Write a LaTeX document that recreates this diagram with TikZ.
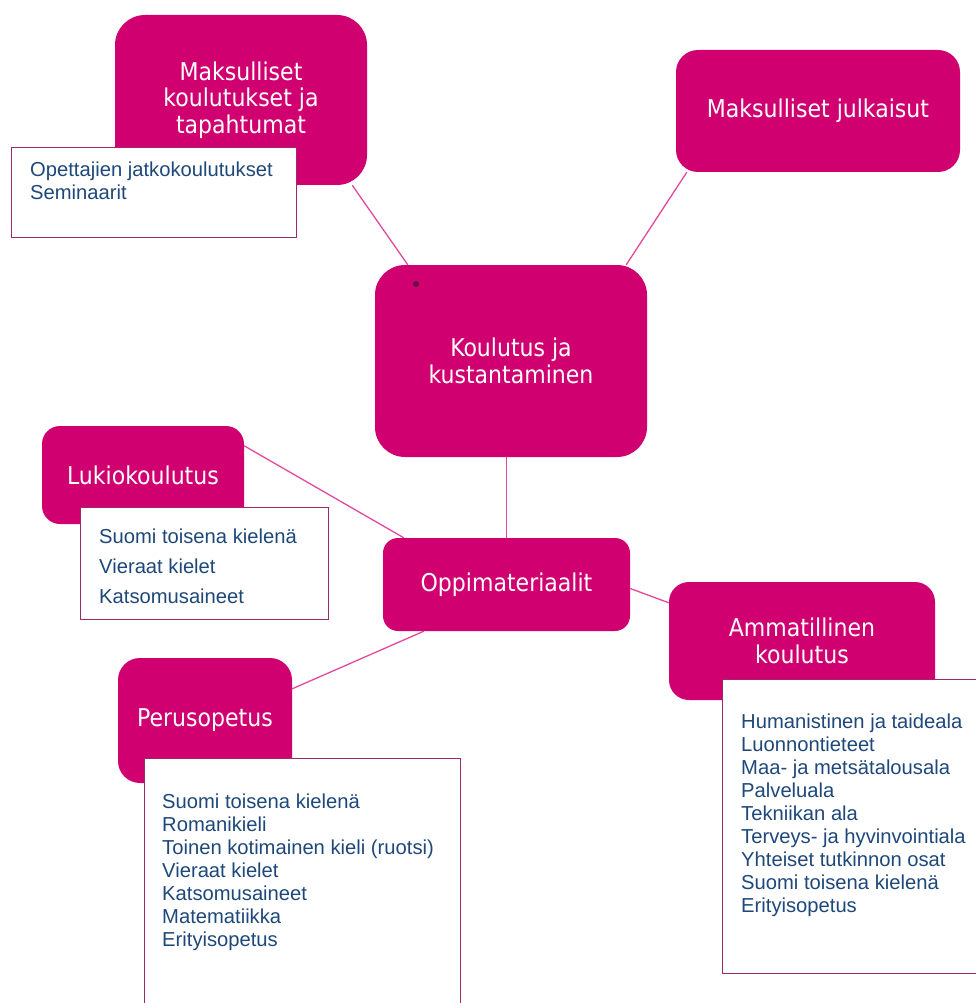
\documentclass[tikz,border=0pt]{standalone}
\usepackage{fontspec}
\setmainfont{Liberation Sans}
\newfontfamily\topicfont{DejaVu Sans Condensed}
\usetikzlibrary{positioning, backgrounds}
\definecolor{topicmag}{RGB}{208,0,112}
\definecolor{linkpink}{RGB}{228,72,156}
\definecolor{listframe}{RGB}{158,40,108}
\definecolor{listblue}{RGB}{30,72,122}
\definecolor{dotpurple}{RGB}{96,20,70}

\begin{document}
\begin{tikzpicture}[
    x=1pt, y=-1pt,
    topic/.style={rectangle, fill=topicmag, text=white, align=center, inner sep=0pt,
        font=\topicfont\fontsize{24.5}{26.5}\selectfont},
    listbox/.style={rectangle, draw=listframe, fill=white, line width=1.2pt, anchor=north west, inner sep=0pt},
    listtext/.style={anchor=base west, align=left, inner sep=0pt, text=listblue,
        font=\fontsize{20.2}{23}\selectfont},
    dot/.style={circle, fill=dotpurple, inner sep=0pt, minimum size=6pt},
    link/.style={draw=linkpink, line width=1.3pt}
]
\useasboundingbox (0,0) rectangle (976,1003);
\clip (0,0) rectangle (976,1003);

\node[topic, minimum width=252pt, minimum height=170pt, rounded corners=30pt] (mk) at (241,100) {Maksulliset\\koulutukset ja\\tapahtumat};
\node[listbox, minimum width=285pt, minimum height=90pt] (opetlist) at (11,147) {};
\node[listtext, font=\fontsize{20.2}{24}\selectfont] (opettext) at (30,200) {Opettajien jatkokoulutukset\\Seminaarit};

\node[topic, minimum width=284pt, minimum height=122pt, rounded corners=22pt] (julk) at (818,111) {Maksulliset julkaisut};

\node[topic, minimum width=272pt, minimum height=192pt, rounded corners=30pt] (kk) at (511,361) {Koulutus ja\\kustantaminen};
\node[dot] (kkdot) at (416,284) {};

\node[topic, minimum width=202pt, minimum height=98pt, rounded corners=18pt] (lukio) at (143,475) {Lukiokoulutus};
\node[listbox, minimum width=248pt, minimum height=112pt] (lukiolist) at (80,507) {};
\node[listtext, font=\fontsize{20.2}{30}\selectfont] (lukiotext) at (99,603) {Suomi toisena kielenä\\Vieraat kielet\\Katsomusaineet};

\node[topic, minimum width=247pt, minimum height=93pt, rounded corners=15pt] (oppi) at (506.5,584.5) {Oppimateriaalit};

\node[topic, minimum width=266pt, minimum height=118pt, rounded corners=20pt] (amm) at (802,641) {Ammatillinen\\koulutus};
\node[listbox, minimum width=262pt, minimum height=294pt] (ammlist) at (722,679) {};
\node[listtext] (ammtext) at (741,912) {Humanistinen ja taideala\\Luonnontieteet\\Maa- ja metsätalousala\\Palveluala\\Tekniikan ala\\Terveys- ja hyvinvointiala\\Yhteiset tutkinnon osat\\Suomi toisena kielenä\\Erityisopetus};

\node[topic, minimum width=174pt, minimum height=125pt, rounded corners=22pt] (perus) at (205,720.5) {Perusopetus};
\node[listbox, minimum width=316pt, minimum height=262pt] (peruslist) at (144,758) {};
\node[listtext] (perustext) at (162,946) {Suomi toisena kielenä\\Romanikieli\\Toinen kotimainen kieli (ruotsi)\\Vieraat kielet\\Katsomusaineet\\Matematiikka\\Erityisopetus};

\begin{scope}[on background layer]
\draw[link] ([xshift=-15pt]mk.south east) -- ([xshift=33pt]kk.north west);
\draw[link] ([xshift=11pt]julk.south west) -- ([xshift=-21pt]kk.north east);
\draw[link] (oppi.north |- kk.south) -- (oppi.north);
\draw[link] ([yshift=-20pt]lukio.north east) -- ([xshift=21pt]oppi.north west);
\draw[link] ([yshift=-4pt]oppi.east) -- ([yshift=-21pt]amm.north west);
\draw[link] ([xshift=41pt]oppi.south west) -- ([yshift=-31pt]perus.north east);
\end{scope}

\end{tikzpicture}
\end{document}
